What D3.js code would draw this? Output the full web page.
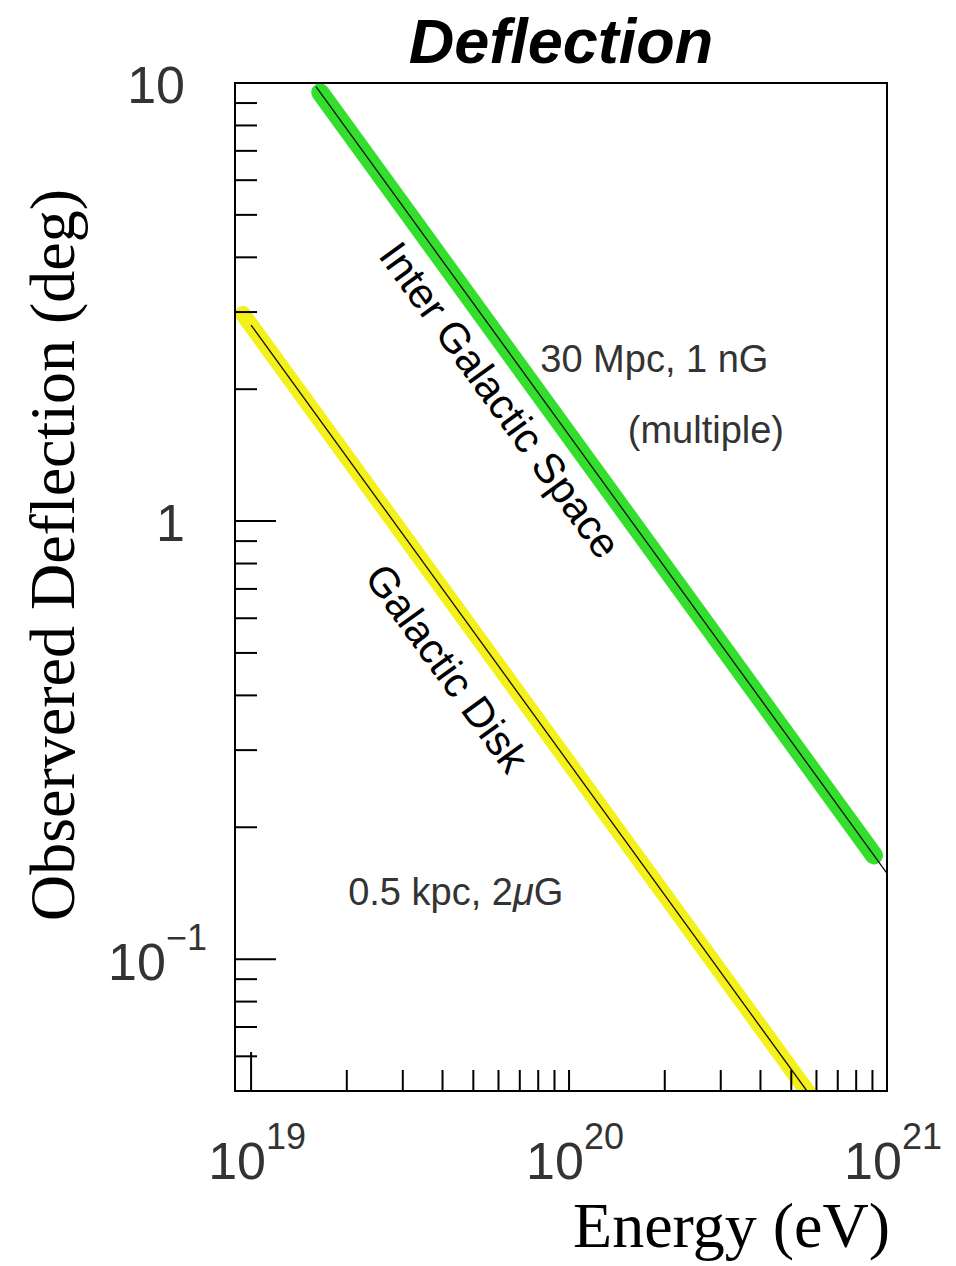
<!DOCTYPE html>
<html lang="en">
<head>
<meta charset="UTF-8" />
<title>Deflection</title>
<script src="https://d3js.org/d3.v7.min.js"></script>
<style>
  body { margin: 0; background: #fff; }
  text { font-family: "Liberation Sans", Arial, sans-serif; }
  .serif { font-family: "Liberation Serif", "Times New Roman", serif; }
</style>
</head>
<body>
<div id="chart"></div>
<script>
  // Data
  const xDomain = [8.9e18, 1e21];
  const yDomain = [0.05, 10];
  const xMajor = [1e19, 1e20, 1e21];
  const xMajorExp = ["19", "20", "21"];

  // Inter galactic: 30 Mpc, 1 nG  -> deflection ~ 1/E
  const igBandE = [1.65e19, 9.1e20];
  const igBandD = [9.52, 0.1725];
  const igLineE = [1.6e19, 1e21];
  const igLineD = [9.81, 0.157];

  // Galactic disk: 0.5 kpc, 2 uG
  const gdBandE = [9.42e18, 6.2e20];
  const gdBandD = [2.97, 0.0452];
  const gdLineE = [1e19, 5.6e20];
  const gdLineD = [2.8, 0.05];

  const width = 956, height = 1266;
  const margin = { left: 235, top: 83, right: 69, bottom: 175 };

  const svg = d3.select("#chart").append("svg")
    .attr("width", width)
    .attr("height", height);

  const x = d3.scaleLog().domain(xDomain).range([margin.left, width - margin.right]);
  const y = d3.scaleLog().domain(yDomain).range([height - margin.bottom, margin.top]);

  svg.append("clipPath").attr("id", "plot")
    .append("rect")
    .attr("x", margin.left).attr("y", margin.top)
    .attr("width", width - margin.left - margin.right)
    .attr("height", height - margin.top - margin.bottom);

  const line = d3.line().x(d => x(d[0])).y(d => y(d[1]));
  const g = svg.append("g").attr("clip-path", "url(#plot)");

  // bands
  g.append("path")
    .attr("d", line(d3.zip(gdBandE, gdBandD)))
    .attr("stroke", "#f4f01a").attr("stroke-width", 16)
    .attr("stroke-linecap", "round").attr("fill", "none");
  g.append("path")
    .attr("d", line(d3.zip(igBandE, igBandD)))
    .attr("stroke", "#33de2c").attr("stroke-width", 18)
    .attr("stroke-linecap", "round").attr("fill", "none");
  // thin black centre lines
  g.append("path")
    .attr("d", line(d3.zip(gdLineE, gdLineD)))
    .attr("stroke", "#111").attr("stroke-width", 1.3).attr("fill", "none");
  g.append("path")
    .attr("d", line(d3.zip(igLineE, igLineD)))
    .attr("stroke", "#111").attr("stroke-width", 1.3).attr("fill", "none");

  // frame
  svg.append("rect")
    .attr("x", margin.left).attr("y", margin.top)
    .attr("width", width - margin.left - margin.right)
    .attr("height", height - margin.top - margin.bottom)
    .attr("fill", "none").attr("stroke", "#000").attr("stroke-width", 2);

  // ticks
  const isMajor = v => Math.abs(Math.log10(v) - Math.round(Math.log10(v))) < 1e-6;
  const y0 = height - margin.bottom;
  svg.append("g").selectAll("line")
    .data(x.ticks().filter(d => d >= 1e19))
    .join("line")
    .attr("x1", d => x(d)).attr("x2", d => x(d))
    .attr("y1", y0)
    .attr("y2", d => y0 - (d === 1e19 ? 39 : 21))
    .attr("stroke", "#000").attr("stroke-width", 2);
  svg.append("g").selectAll("line")
    .data(y.ticks())
    .join("line")
    .attr("y1", d => y(d)).attr("y2", d => y(d))
    .attr("x1", margin.left)
    .attr("x2", d => margin.left + (isMajor(d) ? 41 : 22))
    .attr("stroke", "#000").attr("stroke-width", 2);

  // tick labels
  const lab = svg.append("g").attr("fill", "#333").style("font-size", "52px");
  xMajor.forEach((v, i) => {
    const t = lab.append("text")
      .attr("x", x(v) + 6).attr("y", y0 + 88)
      .attr("text-anchor", "middle");
    t.append("tspan").text("10");
    t.append("tspan").attr("dy", -30).style("font-size", "36px").text(xMajorExp[i]);
  });
  lab.append("text").attr("x", margin.left - 50).attr("y", y(10) + 20)
    .attr("text-anchor", "end").text("10");
  lab.append("text").attr("x", margin.left - 50).attr("y", y(1) + 20)
    .attr("text-anchor", "end").text("1");
  const tm = lab.append("text").attr("x", margin.left - 28).attr("y", y(0.1) + 21)
    .attr("text-anchor", "end");
  tm.append("tspan").text("10");
  tm.append("tspan").attr("dy", -30).style("font-size", "36px").text("\u22121");

  // annotations
  svg.append("text")
    .attr("transform", `translate(${x(6.08e19)},${y(1.89)}) rotate(54)`)
    .attr("text-anchor", "middle").attr("dy", "0.35em")
    .style("font-size", "42px").attr("fill", "#000")
    .text("Inter Galactic Space");
  svg.append("text")
    .attr("transform", `translate(${x(4.14e19)},${y(0.462)}) rotate(54)`)
    .attr("text-anchor", "middle").attr("dy", "0.35em")
    .style("font-size", "42px").attr("fill", "#000")
    .text("Galactic Disk");
  const note = svg.append("g").attr("fill", "#333").style("font-size", "38px");
  note.append("text").attr("x", x(8.12e19)).attr("y", y(2.19)).text("30 Mpc, 1 nG");
  note.append("text").attr("x", x(1.53e20)).attr("y", y(1.51)).text("(multiple)");
  const kp = note.append("text").attr("x", x(2.02e19)).attr("y", y(0.133));
  kp.append("tspan").text("0.5 kpc, 2");
  kp.append("tspan").style("font-style", "italic").text("\u03bc");
  kp.append("tspan").text("G");

  // titles
  svg.append("text")
    .attr("x", (margin.left + width - margin.right) / 2).attr("y", 63)
    .attr("text-anchor", "middle")
    .style("font-size", "63px").style("font-weight", "bold").style("font-style", "italic")
    .text("Deflection");
  svg.append("text").attr("class", "serif")
    .attr("transform", "translate(74,555) rotate(-90)")
    .attr("text-anchor", "middle")
    .style("font-size", "64px")
    .text("Observered Deflection (deg)");
  svg.append("text").attr("class", "serif")
    .attr("x", 890).attr("y", 1247)
    .attr("text-anchor", "end")
    .style("font-size", "64px")
    .text("Energy (eV)");
</script>
</body>
</html>
